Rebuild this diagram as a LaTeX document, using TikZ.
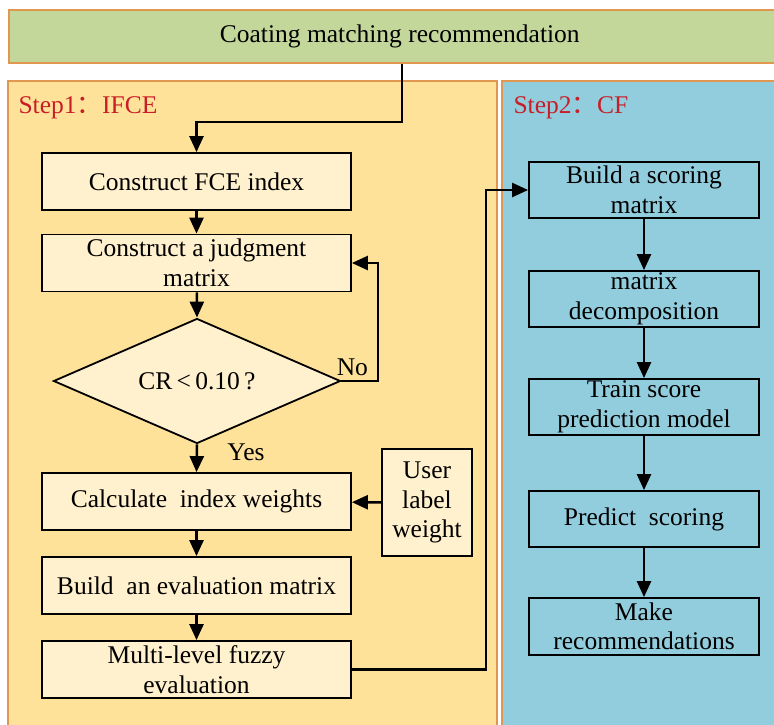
\documentclass[tikz,border=0pt]{standalone}
\usepackage{fontspec}
\setmainfont{Liberation Serif}
\newfontfamily\cjk{Noto Sans CJK SC}
\usepackage{tikz}
\usetikzlibrary{arrows.meta,shapes.geometric,positioning,calc}
\definecolor{barG}{RGB}{196,215,155}
\definecolor{edgeO}{RGB}{224,152,80}
\definecolor{panelY}{RGB}{255,226,153}
\definecolor{boxY}{RGB}{255,241,205}
\definecolor{panelB}{RGB}{146,205,221}
\definecolor{stepR}{RGB}{200,30,40}

\begin{document}
\begin{tikzpicture}[x=1pt, y=-1pt,
    font=\fontsize{25.5}{29.5}\selectfont,
    box/.style={draw=black, line width=1.8pt, fill=boxY, minimum width=309pt,
      minimum height=57pt, align=center, inner sep=1pt},
    cfbox/.style={box, fill=panelB, minimum width=230pt, minimum height=56pt},
    panel/.style={draw=edgeO, line width=1.5pt},
    arr/.style={line width=2.5pt, -{Triangle[length=16pt,width=14pt]}}]
      \useasboundingbox (0,0) rectangle (774,724);
      \fill[white] (0,0) rectangle (774,724);
      % Panels
      \draw[panel, fill=panelY] (8,81) rectangle (497,740);
      \draw[panel, fill=panelB] (502,81) rectangle (790,740);
      \node[panel, fill=barG, minimum width=782pt, minimum height=53pt, anchor=west]
        (title) at (8,36.5) {Coating matching recommendation};
      \node[stepR, anchor=west] (step1) at (15,108) {Step1{\cjk ：}IFCE};
      \node[stepR, anchor=west] (step2) at (510,108) {Step2{\cjk ：}CF};
      % Step 1 boxes
      \node[box] (fce) at (196.5,181.5) {Construct FCE index};
      \node[box] (judg) at (196.5,263) {Construct a judgment\\matrix};
      \node[diamond, aspect=2.3, draw, line width=1.8pt, fill=boxY, minimum width=287pt,
        minimum height=125pt, inner sep=0pt] (cr) at (197,381) {CR\,<\,0.10\,?};
      \node[box] (calc) at (196.5,501.5) {Calculate~ index weights};
      \node[box, minimum width=90pt, minimum height=107pt] (user) at (427,502.5) {User\\label\\weight};
      \node[box] (evalm) at (196.5,585.5) {Build~ an evaluation matrix};
      \node[box] (multi) at (196.5,669.5) {Multi-level fuzzy\\evaluation};
      % Step 2 boxes
      \node[cfbox] (score) at (644,190) {Build a scoring\\matrix};
      \node[cfbox] (decomp) at (644,299) {matrix\\decomposition};
      \node[cfbox] (train) at (644,407) {Train score\\prediction model};
      \node[cfbox] (pred) at (644,519) {Predict~ scoring};
      \node[cfbox, minimum height=57pt] (make) at (644,626.5) {Make\\recommendations};
      % Connectors
      \coordinate (drop) at (402,122);
      \draw[arr] (title.south -| drop) -- (drop) -| (fce.north);
      \draw[arr] (fce) -- (judg);
      \draw[arr] (judg) -- (cr.north);
      \coordinate (nox) at (378,381);
      \draw[arr] (cr.east) -- node[above=1pt, pos=0.3] {No} (nox) |- (judg.east);
      \draw[arr] (cr.south) -- node[right=26pt, pos=0.3] {Yes} (calc.north);
      \draw[arr] (user) -- (calc);
      \draw[arr] (calc) -- (evalm);
      \draw[arr] (evalm) -- (multi);
      \coordinate (rx) at (486,669.5);
      \draw[arr] (multi.east) -- (rx) |- (score.west);
      \draw[arr] (score) -- (decomp);
      \draw[arr] (decomp) -- (train);
      \draw[arr] (train) -- (pred);
      \draw[arr] (pred) -- (make);
\end{tikzpicture}
\end{document}
